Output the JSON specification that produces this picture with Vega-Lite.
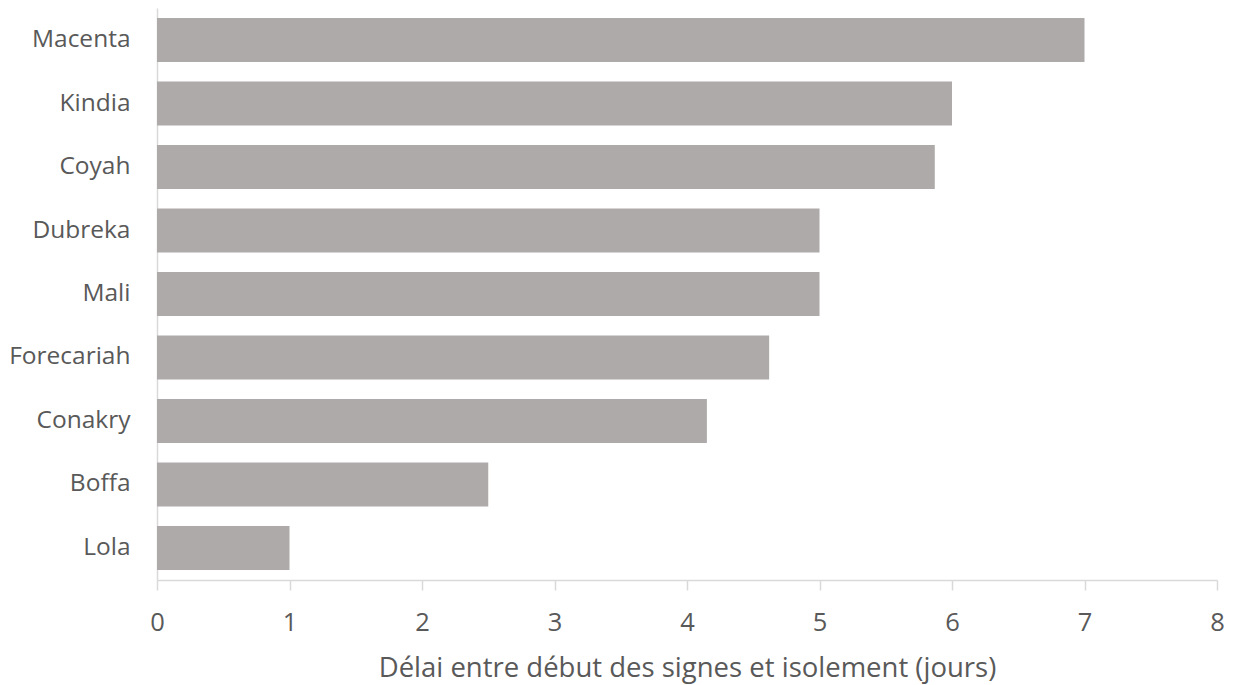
{
  "$schema": "https://vega.github.io/schema/vega-lite/v6.json",
  "autosize": {"type": "none"},
  "padding": {"left": 157, "top": 8, "right": 18, "bottom": 105},
  "width": 1060,
  "height": 572,
  "background": "white",
  "data": {
    "values": [
      {"district": "Macenta", "delai": 7},
      {"district": "Kindia", "delai": 6},
      {"district": "Coyah", "delai": 5.87},
      {"district": "Dubreka", "delai": 5},
      {"district": "Mali", "delai": 5},
      {"district": "Forecariah", "delai": 4.62},
      {"district": "Conakry", "delai": 4.15},
      {"district": "Boffa", "delai": 2.5},
      {"district": "Lola", "delai": 1}
    ]
  },
  "mark": {"type": "bar", "color": "#AEAAA9"},
  "encoding": {
    "y": {
      "field": "district",
      "type": "nominal",
      "sort": null,
      "scale": {"paddingInner": 0.306, "paddingOuter": 0.158},
      "axis": {
        "title": null,
        "ticks": false,
        "domainColor": "#D9D9D9",
        "domainWidth": 1.5,
        "labelFont": "Open Sans",
        "labelFontSize": 24.5,
        "labelColor": "#595959",
        "labelPadding": 27
      }
    },
    "x": {
      "field": "delai",
      "type": "quantitative",
      "scale": {"domain": [0, 8], "nice": false},
      "axis": {
        "title": "Délai entre début des signes et isolement (jours)",
        "values": [0, 1, 2, 3, 4, 5, 6, 7, 8],
        "grid": false,
        "labelFlush": false,
        "domainColor": "#D9D9D9",
        "domainWidth": 1.5,
        "tickColor": "#D9D9D9",
        "tickWidth": 1.5,
        "tickSize": 10,
        "labelFont": "Open Sans",
        "labelFontSize": 25.5,
        "labelColor": "#595959",
        "labelPadding": 20,
        "titleFont": "Open Sans",
        "titleFontSize": 27.5,
        "titleFontWeight": "normal",
        "titleColor": "#595959",
        "titlePadding": 19
      }
    }
  },
  "config": {"view": {"stroke": null}}
}
